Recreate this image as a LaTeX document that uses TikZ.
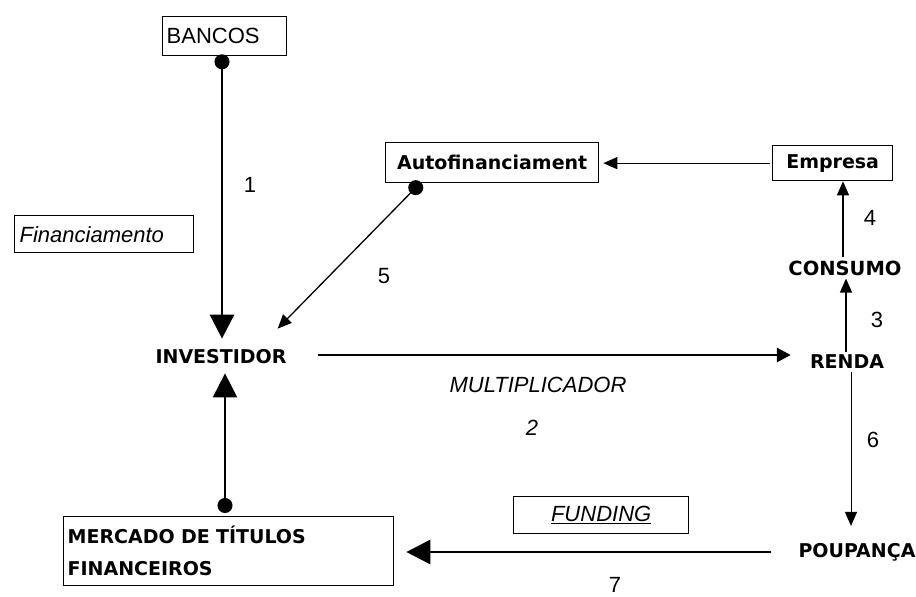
\documentclass[tikz,border=0pt]{standalone}
\usepackage{fontspec}
\setmainfont{Liberation Sans}
\newfontfamily\heavyfont{DejaVu Sans}
\usetikzlibrary{arrows.meta,calc}
\tikzset{
  box/.style={draw, line width=1.3pt, inner sep=0pt},
  heavy/.style={font=\heavyfont\fontsize{19}{22}\selectfont\bfseries, inner sep=3pt},
  plain/.style={font=\fontsize{22}{25}\selectfont, inner sep=2pt},
  ital/.style={font=\fontsize{22}{25}\selectfont\itshape, inner sep=2pt},
  bigarrow/.style={line width=2.8pt, -{Triangle[length=24pt,width=24pt]}},
  bigdot/.style={line width=2.8pt, {Circle[length=15pt,width=15pt]}-{Triangle[length=24pt,width=24pt]}},
  thinarrow/.style={line width=1.3pt, -{Triangle[length=14pt,width=12pt]}},
  thindot/.style={line width=1.3pt, {Circle[length=15pt,width=15pt]}-{Triangle[length=14pt,width=12pt]}},
}
\begin{document}
\begin{tikzpicture}[x=1pt,y=-1pt]
\useasboundingbox (0,0) rectangle (916,597);
% boxes
\node[box, anchor=north west, minimum width=124, minimum height=39, plain, text width=116, align=left, inner xsep=4pt] (bancos) at (162,16) {BANCOS};
\node[box, anchor=north west, minimum width=179, minimum height=37, ital, text width=169, align=left, inner xsep=5pt] (fin) at (14,215) {Financiamento};
\node[box, anchor=north west, minimum width=213, minimum height=40, heavy] (auto) at (385,142) {Autofinanciament};
\node[box, anchor=north west, minimum width=120, minimum height=35, heavy] (emp) at (772,145) {Empresa};
\node[box, anchor=north west, minimum width=330, minimum height=69, text width=322, align=left, inner xsep=4pt, font=\heavyfont\fontsize{19}{32}\selectfont\bfseries] (merc) at (63,516) {MERCADO DE TÍTULOS\\FINANCEIROS};
\node[box, anchor=north west, minimum width=175, minimum height=37, ital] (fund) at (513,496) {\underline{FUNDING}};
% plain nodes
\node[heavy] (inv) at (221,357) {INVESTIDOR};
\node[heavy] (renda) at (847,362) {RENDA};
\node[heavy, font=\heavyfont\fontsize{19.5}{22}\selectfont\bfseries] (cons) at (845,268) {CONSUMO};
\node[heavy] (poup) at (857,552) {POUPANÇA};
% labels
\node[plain] (l1) at (250,185) {1};
\node[plain] (l5) at (384,276) {5};
\node[plain] (l4) at (870,218) {4};
\node[plain] (l3) at (877,320) {3};
\node[plain] (l6) at (873,440) {6};
\node[plain] (l7) at (615,585) {7};
\node[ital] (l2) at (532,428) {2};
\node[ital] (mult) at (538,385) {MULTIPLICADOR};
% anchor coordinates
\coordinate (bdot) at ($(bancos.south west)+(60,-2)$);
\coordinate (adot) at ($(auto.south west)+(36,-1)$);
\coordinate (mdot) at ($(merc.north west)+(162,-3)$);
% connectors
\draw[bigdot, shorten >=8pt] (bdot) -- (bdot |- inv.north);
\draw[thindot] (adot) -- ($(inv.north east)+(-12,-18)$);
\draw[line width=2.8pt, -{Triangle[length=14pt,width=14pt]}, shorten <=28pt, shorten >=16pt] (inv.east |- 0,355) -- (renda.west |- 0,355);
\draw[thinarrow] (renda.north -| 846,0) -- (cons.south -| 846,0);
\draw[thinarrow] (cons.north -| 843,0) -- (emp.south -| 843,0);
\draw[thinarrow, shorten <=2pt, shorten >=4pt] (emp.west) -- (emp.west -| auto.east);
\draw[thinarrow, line width=1pt] (renda.south -| 851,0) -- ($(poup.north -| 851,0)+(0,-14)$);
\draw[bigarrow, shorten <=24pt, shorten >=12pt] (poup.west) -- (poup.west -| merc.east);
\draw[bigdot, line width=2.2pt, shorten >=6pt] (mdot) -- (mdot |- inv.south);
\end{tikzpicture}
\end{document}
